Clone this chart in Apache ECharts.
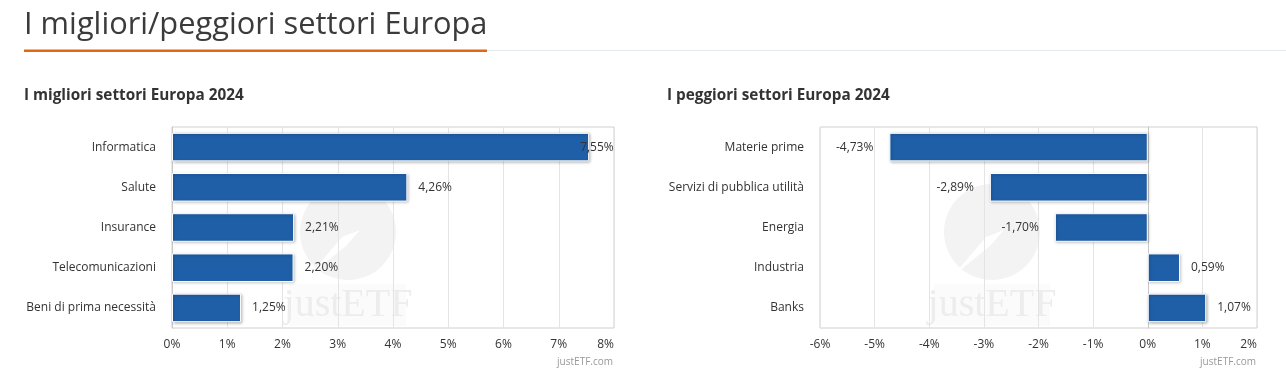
<!DOCTYPE html>
<html>
<head>
<meta charset="utf-8">
<script src="https://cdn.jsdelivr.net/npm/echarts@6/dist/echarts.min.js"></script>
<style>
html,body{margin:0;padding:0;background:#fff;}
#c{width:1286px;height:384px;}
</style>
</head>
<body>
<div id="c"></div>
<script>
const mainTitle = 'I migliori/peggiori settori Europa';
const bestTitle = 'I migliori settori Europa 2024';
const worstTitle = 'I peggiori settori Europa 2024';
const bestCategories = ['Informatica', 'Salute', 'Insurance', 'Telecomunicazioni', 'Beni di prima necessità'];
const bestValues = [7.55, 4.26, 2.21, 2.20, 1.25];
const worstCategories = ['Materie prime', 'Servizi di pubblica utilità', 'Energia', 'Industria', 'Banks'];
const worstValues = [-4.73, -2.89, -1.70, 0.59, 1.07];
const bestAxis = {min: 0, max: 8, interval: 1};
const worstAxis = {min: -6, max: 2, interval: 1};
const credit = 'justETF.com';

const FONT = '"Open Sans", "Noto Sans", sans-serif';
const BAR = '#1f5fa8';

function fmt(v) { return v.toFixed(2).replace('.', ',') + '%'; }

function barData(vals, axisMax) {
  return vals.map(v => {
    const d = {value: v, label: {position: v < 0 ? 'left' : 'right', distance: v < 0 ? 16 : 11}};
    if (v > axisMax - 0.6) { d.label.offset = [-20, 0]; }
    return d;
  });
}

function watermark(cx, cy) {
  return [
    {type: 'circle', z: 0, silent: true, shape: {cx: cx, cy: cy, r: 48}, style: {fill: '#f3f3f3'}},
    {type: 'polygon', z: 0, silent: true, shape: {points: [[cx - 40, cy + 45], [cx - 6, cy + 5], [cx + 12, cy - 2], [cx - 2, cy + 14]]}, style: {fill: '#ffffff'}},
    {type: 'rect', z: 0, silent: true, shape: {x: cx - 58, y: cy + 52, width: 116, height: 42}, style: {fill: '#fbfbfb'}},
    {type: 'text', z: 0, silent: true, x: cx, y: cy + 73, style: {text: 'justETF', fill: '#ededed', font: '40px "Liberation Serif", "DejaVu Serif", serif', align: 'center', verticalAlign: 'middle'}}
  ];
}

const chart = echarts.init(document.getElementById('c'), null, {renderer: 'canvas'});

function xAxisCfg(gi, ax) {
  return {
    type: 'value', gridIndex: gi, min: ax.min, max: ax.max, interval: ax.interval,
    axisLine: {show: false}, axisTick: {show: false},
    splitLine: {show: true, lineStyle: {color: '#e4e4e4', width: 1}},
    axisLabel: {formatter: v => v + '%', color: '#333', fontSize: 12, fontFamily: FONT, margin: 11, alignMaxLabel: 'right'}
  };
}
function yAxisCfg(gi, cats) {
  return {
    type: 'category', gridIndex: gi, data: cats, inverse: true,
    axisLine: {show: true, lineStyle: {color: '#c8c8c8'}}, axisTick: {show: false},
    axisLabel: {color: '#333', fontSize: 12, fontFamily: FONT, margin: 16}
  };
}
function seriesCfg(gi, vals, ax) {
  return {
    type: 'bar', xAxisIndex: gi, yAxisIndex: gi, barWidth: '71%', z: 3,
    data: barData(vals, ax.max),
    itemStyle: {color: BAR, borderColor: '#ffffff', borderWidth: 1, shadowColor: 'rgba(0,0,0,0.28)', shadowBlur: 3, shadowOffsetX: 1, shadowOffsetY: 1},
    label: {show: true, formatter: p => fmt(p.value), color: '#333', fontSize: 12, fontFamily: FONT},
    emphasis: {disabled: true}
  };
}

chart.setOption({
  animation: false,
  backgroundColor: '#ffffff',
  grid: [
    {left: 172, top: 127, width: 442, height: 201, show: true, borderColor: '#d0d0d0', borderWidth: 1, backgroundColor: 'transparent', containLabel: false},
    {left: 820, top: 127, width: 437, height: 201, show: true, borderColor: '#d0d0d0', borderWidth: 1, backgroundColor: 'transparent', containLabel: false}
  ],
  xAxis: [xAxisCfg(0, bestAxis), xAxisCfg(1, worstAxis)],
  yAxis: [yAxisCfg(0, bestCategories), yAxisCfg(1, worstCategories)],
  series: [seriesCfg(0, bestValues, bestAxis), seriesCfg(1, worstValues, worstAxis)],
  graphic: [
    ...watermark(348, 232),
    ...watermark(992, 232),
    {type: 'text', x: 24, y: 25, style: {text: mainTitle, fill: '#3b3b3b', font: '30.8px ' + FONT, verticalAlign: 'middle'}},
    {type: 'rect', x: 487, y: 50, shape: {width: 799, height: 1}, style: {fill: '#e3e9f0'}},
    {type: 'rect', x: 24, y: 49.5, shape: {width: 463, height: 2.5}, style: {fill: '#e2680f'}},
    {type: 'text', x: 24, y: 96, style: {text: bestTitle, fill: '#333', font: 'bold 15.3px ' + FONT, verticalAlign: 'middle'}},
    {type: 'text', x: 667, y: 96, style: {text: worstTitle, fill: '#333', font: 'bold 15.3px ' + FONT, verticalAlign: 'middle'}},
    {type: 'text', x: 613, y: 362, style: {text: credit, fill: '#999', font: '10px ' + FONT, align: 'right', verticalAlign: 'middle'}},
    {type: 'text', x: 1256, y: 362, style: {text: credit, fill: '#999', font: '10px ' + FONT, align: 'right', verticalAlign: 'middle'}}
  ]
});
</script>
</body>
</html>
